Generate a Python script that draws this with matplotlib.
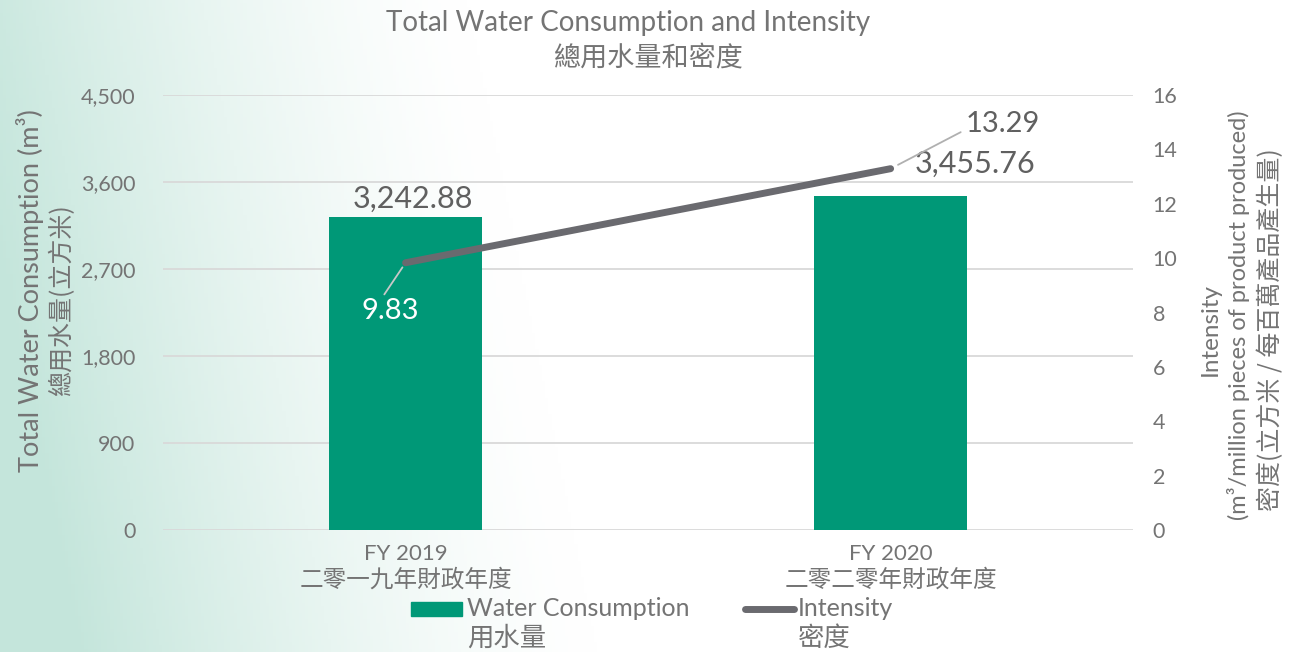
import numpy as np
import matplotlib
matplotlib.use("Agg")
from matplotlib import pyplot as plt
from matplotlib.patches import Rectangle
from matplotlib.lines import Line2D

plt.rcParams["font.family"] = ["Lato", "Noto Sans CJK TC", "DejaVu Sans"]
CJK = ["Noto Sans CJK TC", "Lato", "DejaVu Sans"]

categories = ["FY 2019", "FY 2020"]
categories_zh = ["二零一九年財政年度", "二零二零年財政年度"]
water = [3242.88, 3455.76]
intensity = [9.83, 13.29]
water_labels = ["3,242.88", "3,455.76"]
intensity_labels = ["9.83", "13.29"]
left_ticks = [0, 900, 1800, 2700, 3600, 4500]
right_ticks = [0, 2, 4, 6, 8, 10, 12, 14, 16]

green = "#009877"
line_gray = "#6a6a6f"
text_gray = "#747474"

fig = plt.figure(figsize=(12.98, 6.52), dpi=100)

# light green background fading to white
bg = fig.add_axes([0, 0, 1, 1], zorder=-10)
xx, yy = np.meshgrid(np.linspace(0, 1, 400), np.linspace(0, 1, 200))
t = np.clip(1 - xx / 0.40 + 0.25 * yy - 0.1, 0, 1) ** 1.4
c0 = np.array([0.77, 0.90, 0.86])
img = np.ones((200, 400, 3)) * (1 - t[..., None]) + c0 * t[..., None]
bg.imshow(img, extent=[0, 1, 0, 1], aspect="auto", origin="upper")
bg.axis("off")

ax = fig.add_axes([0.1256, 0.1871, 0.7474, 0.6672])
ax.set_facecolor("none")
x = np.arange(len(categories))
ax.bar(x, water, width=0.315, color=green, zorder=2)
ax.set_xlim(-0.5, 1.5)
ax.set_ylim(0, 4500)
ax.set_yticks(left_ticks)
ax.set_yticklabels([f"{v:,}" for v in left_ticks])
ax.set_xticks(x)
ax.set_xticklabels([])
ax.grid(axis="y", color="#d9d9d9", lw=1.3, zorder=0)
for s in ax.spines.values():
    s.set_visible(False)
ax.tick_params(length=0, colors=text_gray, labelsize=15.5, pad=20)

# category labels, two lines
for xi, en, zh in zip(x, categories, categories_zh):
    ax.annotate(en, (xi, 0), xytext=(0, -17), textcoords="offset points", ha="center",
                va="center", fontsize=16, color=text_gray, annotation_clip=False)
    ax.annotate(zh, (xi, 0), xytext=(0, -36), textcoords="offset points", ha="center",
                va="center", fontsize=17, color=text_gray, family=CJK, annotation_clip=False)

# bar value labels
ax.annotate(water_labels[0], (x[0], water[0]), xytext=(5, 3), textcoords="offset points",
            ha="center", va="bottom", fontsize=22, color="#606060")
ax.annotate(water_labels[1], (x[1], water[1]), xytext=(61, 13), textcoords="offset points",
            ha="center", va="bottom", fontsize=22, color="#606060")

ax2 = ax.twinx()
ax2.set_ylim(0, 16)
ax2.set_yticks(right_ticks)
for s in ax2.spines.values():
    s.set_visible(False)
ax2.tick_params(length=0, colors=text_gray, labelsize=15.5, pad=14)
ax2.plot(x, intensity, color=line_gray, lw=5, solid_capstyle="round", zorder=3)

ax2.annotate(intensity_labels[0], (x[0], intensity[0]), xytext=(-11, -35), textcoords="offset points",
             ha="center", va="center", fontsize=21, color="white",
             arrowprops=dict(arrowstyle="-", color="#c8c8c8", lw=1.3, shrinkA=1, shrinkB=4,
                             relpos=(0.35, 1.0)))
ax2.annotate(intensity_labels[1], (x[1], intensity[1]), xytext=(81, 32), textcoords="offset points",
             ha="center", va="center", fontsize=21, color="#606060",
             arrowprops=dict(arrowstyle="-", color="#b0b0b0", lw=1.3, shrinkA=2, shrinkB=6,
                             relpos=(0.0, 0.3)))

# axis titles
fig.text(30 / 1298, 1 - 291 / 652, "Total Water Consumption (m³)", rotation=90, ha="center",
         va="center", fontsize=19.5, color=text_gray)
fig.text(62 / 1298, 1 - 300 / 652, "總用水量(立方米)", rotation=90, ha="center",
         va="center", fontsize=18, color=text_gray, family=CJK)
fig.text(1210 / 1298, 1 - 330 / 652, "Intensity", rotation=90, ha="center",
         va="center", fontsize=17.5, color=text_gray)
fig.text(1238 / 1298, 1 - 315 / 652, "(m³/million pieces of product produced)", rotation=90,
         ha="center", va="center", fontsize=17, color=text_gray)
fig.text(1271 / 1298, 1 - 330 / 652, "密度(立方米 / 每百萬產品產生量)", rotation=90, ha="center",
         va="center", fontsize=18, color=text_gray, family=CJK)

# chart title
fig.text(628 / 1298, 1 - 23 / 652, "Total Water Consumption and Intensity", ha="center",
         va="center", fontsize=20, color=text_gray)
fig.text(648 / 1298, 1 - 58 / 652, "總用水量和密度", ha="center", va="center",
         fontsize=19.5, color=text_gray, family=CJK)

# legend
fig.patches.append(Rectangle((411 / 1298, 1 - 616 / 652), 51 / 1298, 14 / 652,
                             transform=fig.transFigure, color=green))
fig.lines.append(Line2D([745 / 1298, 794 / 1298], [1 - 609 / 652, 1 - 609 / 652],
                        transform=fig.transFigure, color=line_gray, lw=5, solid_capstyle="round"))
for xt, en, zh in [(467, "Water Consumption", "用水量"), (798, "Intensity", "密度")]:
    fig.text(xt / 1298, 1 - 609 / 652, en, ha="left", va="center", fontsize=18,
             color=text_gray)
    fig.text(xt / 1298, 1 - 638 / 652, zh, ha="left", va="center", fontsize=19,
             color=text_gray, family=CJK)

fig.savefig("out.png", dpi=100)
